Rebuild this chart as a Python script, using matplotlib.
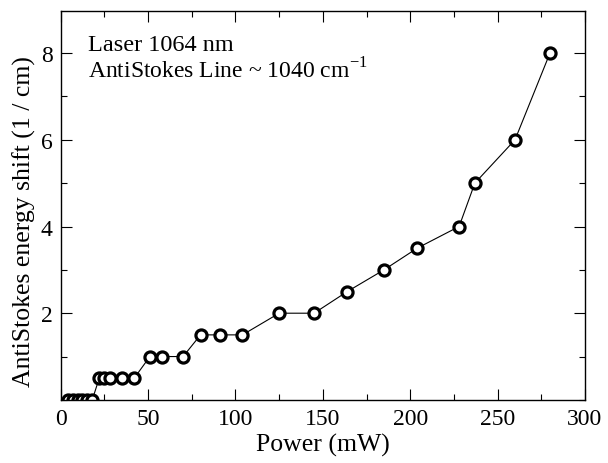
import matplotlib
matplotlib.use("Agg")
import matplotlib.pyplot as plt
from matplotlib.ticker import MultipleLocator

plt.rcParams['font.family'] = ['Liberation Serif', 'DejaVu Serif']
plt.rcParams['mathtext.fontset'] = 'custom'
plt.rcParams['mathtext.rm'] = 'Liberation Serif'

# power (mW) and antistokes energy shift (1/cm)
power = [4, 7, 10, 12, 15, 18,
         22, 25, 28, 35, 42,
         51, 58, 70,
         80, 91, 104,
         125, 145,
         164, 185, 204, 228, 237, 260, 280]
shift = [0, 0, 0, 0, 0, 0,
         0.5, 0.5, 0.5, 0.5, 0.5,
         1, 1, 1,
         1.5, 1.5, 1.5,
         2, 2,
         2.5, 3, 3.5, 4, 5, 6, 8]

fig = plt.figure(figsize=(6.08, 4.64), dpi=100)
ax = fig.add_axes([0.100, 0.136, 0.862, 0.838])

ax.plot(power, shift, color='black', lw=0.8, marker='o', markersize=8,
        markerfacecolor='white', markeredgecolor='black', markeredgewidth=2.3)

ax.set_xlim(0, 300)
ax.set_ylim(0, 8.97)
ax.xaxis.set_major_locator(MultipleLocator(50))
ax.xaxis.set_minor_locator(MultipleLocator(25))
ax.yaxis.set_major_locator(MultipleLocator(2))
ax.yaxis.set_minor_locator(MultipleLocator(1))
ax.set_yticks([2, 4, 6, 8])

ax.tick_params(which='both', direction='in', top=True, right=True, labelsize=17)
ax.tick_params(which='major', length=8, width=0.8, pad=6)
ax.tick_params(which='minor', length=4, width=0.8)
for s in ax.spines.values():
    s.set_linewidth(1.0)

ax.set_xlabel('Power (mW)', fontsize=18.5, labelpad=3)
ax.set_ylabel('AntiStokes energy shift (1 / cm)', fontsize=18.5)
ax.yaxis.set_label_coords(-0.048, 0.46)

# the "0" at the origin sits left of the corner
fig.canvas.draw()
ax.xaxis.get_major_ticks()[0].label1.set_horizontalalignment('right')

ax.text(0.052, 0.915, 'Laser 1064 nm', transform=ax.transAxes, fontsize=17.5, va='center')
ax.text(0.052, 0.85, r'AntiStokes Line ~ 1040 cm$^{\mathregular{-1}}$',
        transform=ax.transAxes, fontsize=17, va='center')

fig.savefig('out.png', dpi=100)
